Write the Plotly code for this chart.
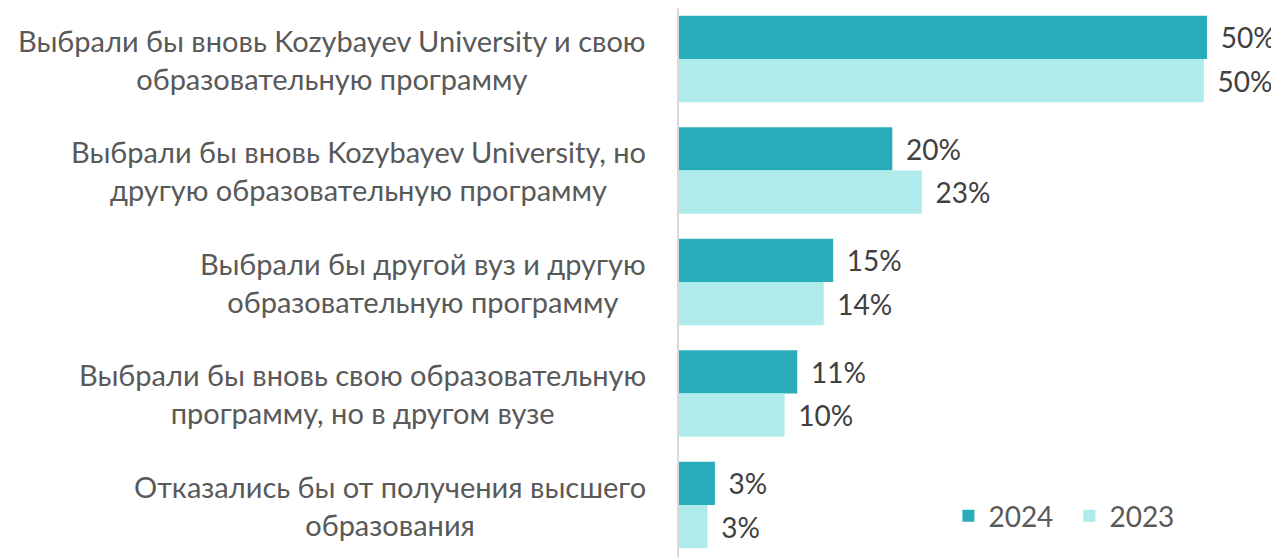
import plotly.graph_objects as go

categories = [
    "Выбрали бы вновь Kozybayev University и свою<br>образовательную программу",
    "Выбрали бы вновь Kozybayev University, но<br>другую образовательную программу",
    "Выбрали бы другой вуз и другую<br>образовательную программу",
    "Выбрали бы вновь свою образовательную<br>программу, но в другом вузе",
    "Отказались бы от получения высшего<br>образования",
]
values_2024 = [50.0, 20.2, 14.6, 11.2, 3.4]
values_2023 = [49.7, 23.0, 13.7, 10.0, 2.7]
labels_2024 = ["50%", "20%", "15%", "11%", "3%"]
labels_2023 = ["50%", "23%", "14%", "10%", "3%"]
series_names = ["2024", "2023"]

FONT = "Lato"
TXT = "#404040"
LBL = "#595959"

ids = list(range(len(categories)))

# page has an 8px body margin; figure sized to fit the window
W, H = 1271, 549
PX_PER_CAT = 111.5
FIRST_CENTER = 51  # px from figure top
vmin = -FIRST_CENTER / PX_PER_CAT
vmax = vmin + H / PX_PER_CAT

fig = go.Figure()
fig.add_trace(go.Bar(
    y=ids, x=values_2024, orientation="h", name=series_names[0],
    marker=dict(color="#2AADBB", line=dict(width=0)),
    text=labels_2024, texttemplate="\u00a0\u2009%{text}", textposition="outside",
    cliponaxis=False, textfont=dict(family=FONT, size=28, color=TXT),
))
fig.add_trace(go.Bar(
    y=ids, x=values_2023, orientation="h", name=series_names[1],
    marker=dict(color="#AFEBEB", line=dict(width=0)),
    text=labels_2023, texttemplate="\u00a0\u2009%{text}", textposition="outside",
    cliponaxis=False, textfont=dict(family=FONT, size=28, color=TXT),
))

for i, c in enumerate(categories):
    fig.add_annotation(
        x=0, xref="paper", xshift=-31, y=i, yref="y",
        text=c, showarrow=False, xanchor="right", yanchor="middle",
        align="center", font=dict(family=FONT, size=29, color=LBL),
    )

fig.update_layout(
    width=W, height=H,
    margin=dict(l=671, r=0, t=0, b=0),
    barmode="group", bargap=0.225, bargroupgap=0,
    plot_bgcolor="white", paper_bgcolor="white",
    font=dict(family=FONT, color=LBL),
    showlegend=True,
    legend=dict(
        orientation="h", x=0.449, y=0.0747, xanchor="left", yanchor="middle",
        font=dict(family=FONT, size=28, color=LBL), traceorder="normal",
        bgcolor="rgba(0,0,0,0)", entrywidth=76, entrywidthmode="pixels",
    ),
    xaxis=dict(range=[0, 600 / 10.56], visible=False, fixedrange=True),
    yaxis=dict(
        range=[vmax, vmin], showticklabels=False, ticks="",
        showline=True, linecolor="#D9D9D9", linewidth=2, showgrid=False,
        zeroline=False,
    ),
)

fig.write_html("out.html")
